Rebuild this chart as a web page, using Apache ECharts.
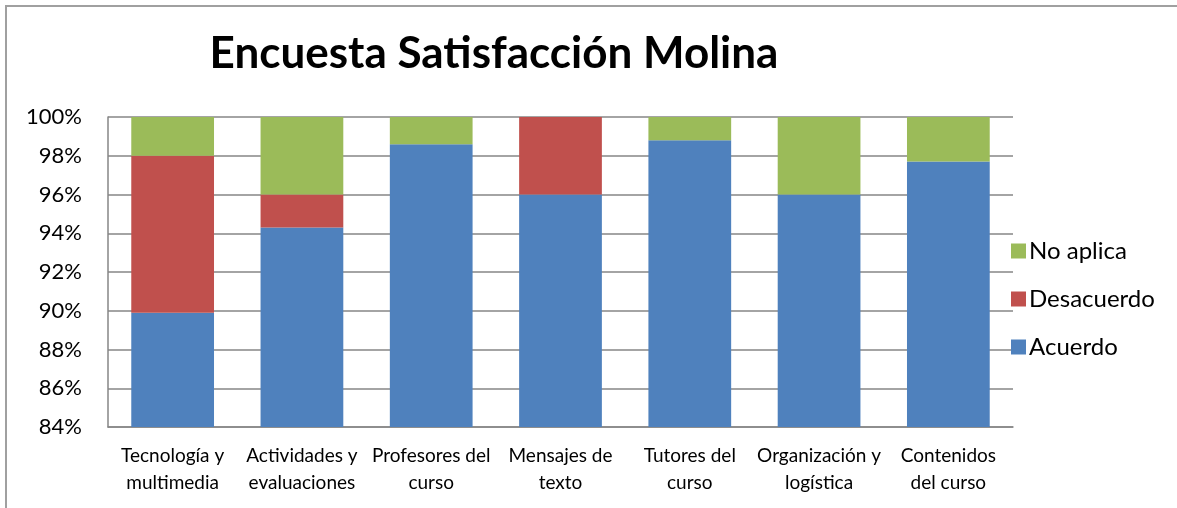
<!DOCTYPE html>
<html>
<head>
<meta charset="utf-8">
<script src="https://cdn.jsdelivr.net/npm/echarts@6/dist/echarts.min.js"></script>
<style>
  html, body { margin: 0; padding: 0; background: #fff; }
  #frame { position: absolute; left: 5px; top: 5px; width: 1200px; height: 540px;
           border-top: 2px solid #a0a0a0; border-left: 2px solid #a0a0a0; }
  #main { position: absolute; left: 0; top: 0; width: 1177px; height: 508px; }
</style>
</head>
<body>
<div id="frame"></div>
<div id="main"></div>
<script>
// categorías y valores (%)
const categorias = [
  'Tecnología y\nmultimedia',
  'Actividades y\nevaluaciones',
  'Profesores del\ncurso',
  'Mensajes de\ntexto',
  'Tutores del\ncurso',
  'Organización y\nlogística',
  'Contenidos\ndel curso',
]
const acuerdo = [89.9, 94.3, 98.6, 96.0, 98.8, 96.0, 97.7]
const desacuerdo = [8.1, 1.7, 0, 4.0, 0, 0, 0]
const noAplica = [2.0, 4.0, 1.4, 0, 1.2, 4.0, 2.3]

const fuente = 'Lato'

const chart = echarts.init(document.getElementById('main'))

chart.setOption({
  backgroundColor: 'transparent',
  animation: false,
  /** título */
  title: {
    text: 'Encuesta Satisfacción Molina',
    left: 489,
    textAlign: 'center',
    top: 27,
    textStyle: {fontFamily: fuente, fontWeight: 'bold', fontSize: 44, color: '#000'},
  },
  /** leyenda */
  legend: {
    orient: 'vertical',
    left: 1006,
    top: 234,
    itemWidth: 15,
    itemHeight: 15,
    itemGap: 24,
    icon: 'rect',
    data: ['No aplica', 'Desacuerdo', 'Acuerdo'],
    textStyle: {fontFamily: fuente, fontSize: 24, color: '#000', padding: [0, 0, 0, -2]},
  },
  grid: {
    left: 108,
    right: 164,
    top: 117,
    bottom: 81,
  },
  xAxis: {
    type: 'category',
    data: categorias,
    axisTick: {show: false},
    axisLine: {lineStyle: {color: '#868686', width: 1.5}},
    axisLabel: {
      interval: 0,
      margin: 15,
      lineHeight: 27,
      fontFamily: fuente,
      fontSize: 19,
      color: '#000',
    },
  },
  yAxis: {
    type: 'value',
    min: 84,
    max: 100,
    interval: 2,
    axisLine: {show: true, lineStyle: {color: '#868686', width: 1.5}},
    axisTick: {show: false},
    axisLabel: {
      formatter: '{value}%',
      margin: 26,
      fontFamily: fuente,
      fontSize: 22,
      color: '#000',
    },
    splitLine: {lineStyle: {color: '#868686', width: 1.5}},
  },
  series: [
    {name: 'Acuerdo', type: 'bar', stack: 'total', data: acuerdo, barWidth: '64%', itemStyle: {color: '#4F81BD'}},
    {name: 'Desacuerdo', type: 'bar', stack: 'total', data: desacuerdo, itemStyle: {color: '#C0504D'}},
    {name: 'No aplica', type: 'bar', stack: 'total', data: noAplica, itemStyle: {color: '#9BBB59'}},
  ],
})
</script>
</body>
</html>
